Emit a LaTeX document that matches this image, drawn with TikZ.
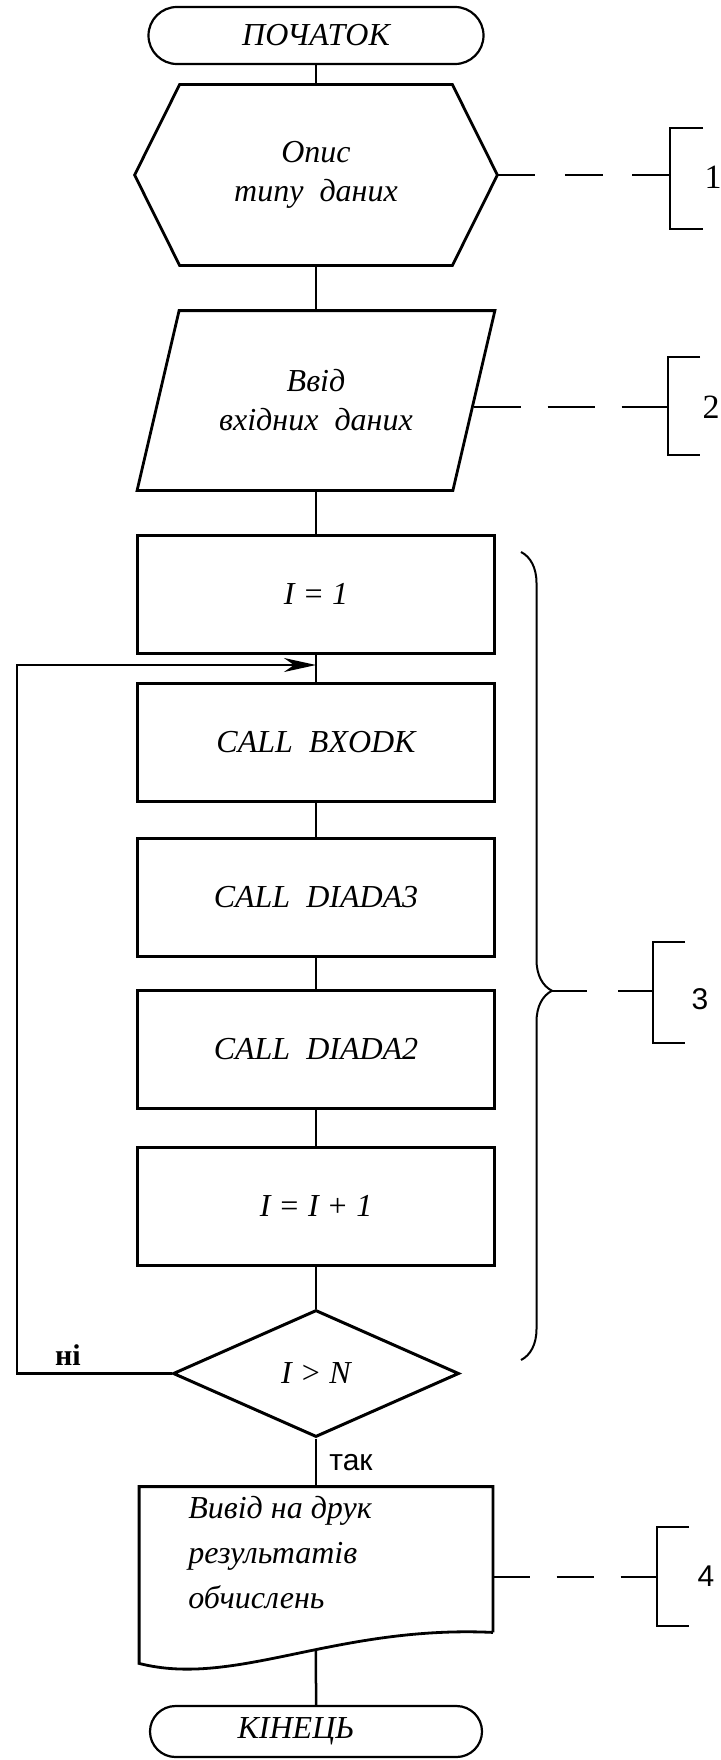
\documentclass[tikz,border=0pt]{standalone}
\usepackage{fontspec}
\setmainfont{Liberation Serif}
\newfontfamily\lsans{Liberation Sans}
\usetikzlibrary{shapes.misc,shapes.geometric,arrows.meta,decorations.pathreplacing,calc}
\newcommand{\bxfont}{\fontsize{16}{19.5}\selectfont\itshape}
\begin{document}
\begin{tikzpicture}[x=0.5pt,y=-0.5pt,
  every node/.style={inner sep=0pt},
  txt/.style={font=\bxfont},
  term/.style={rounded rectangle, draw, line width=1.1pt, minimum width=167.5pt, minimum height=28.5pt, font=\bxfont},
  procbox/.style={rectangle, draw, line width=1.5pt, minimum width=178.5pt, minimum height=59pt, font=\bxfont},
  outline/.style={line width=1.4pt, line join=miter},
  flow/.style={line width=1.25pt},
  dlink/.style={line width=1pt},
  brk/.style={line width=1.2pt},
  bracenum/.style={font=\fontsize{17}{17}\selectfont},
  bracenumsans/.style={font=\lsans\fontsize{15}{15}\selectfont},
]
\useasboundingbox (0,0) rectangle (721,1760);

% ---- blocks ----
\node[term] (start) at (316,35.5) {ПОЧАТОК};

\node[txt, align=center, minimum width=181pt, minimum height=90pt] (hex) at (316,175) {Опис\\типу\ \ даних};
\draw[outline] (hex.west) -- ($(hex.north west)+(45,0)$) -- ($(hex.north east)+(-45,0)$) -- (hex.east)
  -- ($(hex.south east)+(-45,0)$) -- ($(hex.south west)+(45,0)$) -- cycle;

\node[txt, align=center, minimum width=157.5pt, minimum height=89.5pt] (para) at (316,400.5) {Ввід\\вхідних\ \ даних};
\draw[outline] ($(para.north west)+(21,0)$) -- ($(para.north east)+(21,0)$) -- ($(para.south east)+(-21,0)$)
  -- ($(para.south west)+(-21,0)$) -- cycle;

\node[procbox] (i1) at (316,594) {I = 1};
\node[procbox] (bx) at (316,742.5) {CALL\ \ BXODK};
\node[procbox] (d3) at (316,897.5) {CALL\ \ DIADA3};
\node[procbox] (d2) at (316,1049) {CALL\ \ DIADA2};
\node[procbox] (inc) at (316,1206) {I = I + 1};

\node[diamond, draw, line width=1.5pt, aspect=2.25, minimum width=143pt, minimum height=63.5pt, font=\bxfont] (dia) at (316,1373.5) {I > N};

\node[minimum width=176.5pt, minimum height=72.5pt] (doc) at (316,1559.5) {};
\draw[outline] (doc.south east) -- (doc.north east) -- (doc.north west) -- ($(doc.south west)+(0,31)$)
  .. controls (235,1688) and (335,1625) .. (doc.south east) coordinate[pos=0.567] (docb);
\node[anchor=west, align=left, font=\fontsize{16}{22.5}\selectfont\itshape] (doctxt) at (188,1553) {Вивід на друк\\результатів\\обчислень};

\node[term, minimum width=166pt, minimum height=25.5pt] (fin) at (316,1731.5) {КІНЕЦЬ\hspace*{20pt}};

% ---- flow lines ----
\draw[flow] (start.south) -- (hex.north);
\draw[flow] (hex.south) -- (para.north);
\draw[flow] (para.south) -- (i1.north);
\draw[flow] (i1.south) -- (bx.north);
\draw[flow] (bx.south) -- (d3.north);
\draw[flow] (d3.south) -- (d2.north);
\draw[flow] (d2.south) -- (inc.north);
\draw[flow] (inc.south) -- (dia.north);
\draw[flow] (dia.south) -- (doc.north);
\draw[flow] (docb) -- (fin.north);

% loop back
\coordinate (lp) at (17,665);
\draw[flow, -{Stealth[length=16pt,width=7pt,inset=5pt]}] (dia.west) -| (lp) -- (lp -| i1.south);
\node[font=\fontsize{15}{15}\selectfont\bfseries] (no) at (68,1355) {ні};
\node[font=\lsans\fontsize{15}{15}\selectfont] (yes) at (351,1463) {так};

% ---- brace for block 3 ----
\draw[line width=1pt, decorate, decoration={brace, amplitude=15.5pt, aspect=0.543}] (521,552) -- (521,1360);
\coordinate (bt) at (552,990.7);

% ---- comment brackets ----
\coordinate (k1) at (670,175);
\draw[brk] (703,128) -- (670,128) -- (670,229) -- (703,229);
\node[bracenum] (n1) at (713,177) {1};
\draw[dlink, dash pattern=on 19pt off 14.75pt] (hex.east) -- (k1);

\coordinate (k2) at (668,407);
\draw[brk] (700,357) -- (668,357) -- (668,455) -- (700,455);
\node[bracenum] (n2) at (711,407) {2};
\draw[dlink, dash pattern=on 23.5pt off 13.4pt] (para.east |- k2) -- (k2);

\coordinate (k3) at (653,990.7);
\draw[brk] (685,942) -- (653,942) -- (653,1043) -- (685,1043);
\node[bracenumsans] (n3) at (700,999) {3};
\draw[dlink, dash pattern=on 17.5pt off 15.5pt] (bt) -- (k3);

\coordinate (k4) at (657,1577);
\draw[brk] (689,1527) -- (657,1527) -- (657,1626) -- (689,1626);
\node[bracenumsans] (n4) at (706,1576) {4};
\draw[dlink, dash pattern=on 18.5pt off 13.4pt] (doc.east |- k4) -- (k4);
\end{tikzpicture}
\end{document}
